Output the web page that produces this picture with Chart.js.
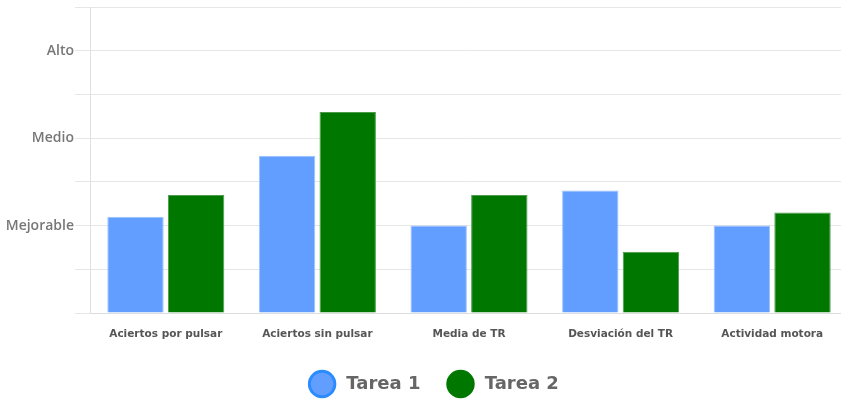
<!DOCTYPE html>
<html>
<head>
<meta charset="utf-8">
<script src="https://cdn.jsdelivr.net/npm/chart.js@4"></script>
<style>
  html, body { margin: 0; padding: 0; background: #fff; overflow: hidden; }
  #wrap { width: 848px; height: 400px; position: relative; }
</style>
</head>
<body>
<div id="wrap"><canvas id="grafico"></canvas></div>
<script>
// ===== DATOS =====
const categorias = ['Aciertos por pulsar', 'Aciertos sin pulsar', 'Media de TR', 'Desviación del TR', 'Actividad motora'];
const tarea1 = [2.2, 3.6, 2.0, 2.8, 2.0];
const tarea2 = [2.7, 4.6, 2.7, 1.4, 2.3];
const nivelesY = { 2: 'Mejorable', 4: 'Medio', 6: 'Alto' };

// desplaza un poco la leyenda (derecha y abajo), como en el original
const moverLeyenda = {
    id: 'moverLeyenda',
    afterLayout(chart) {
        const lg = chart.legend;
        lg.left += 12;
        lg.right += 12;
        lg.top += 3;
        lg.bottom += 3;
    }
};

const ctx = document.getElementById('grafico').getContext('2d');
new Chart(ctx, {
    type: 'bar',
    data: {
        labels: categorias,
        datasets: [{
            label: 'Tarea 1',
            data: tarea1,
            backgroundColor: '#619eff',
            borderColor: '#9cc2ff',
            borderWidth: 1,
            categoryPercentage: 0.8,
            barPercentage: 0.93
        }, {
            label: 'Tarea 2',
            data: tarea2,
            backgroundColor: '#007800',
            borderColor: '#4c9c4c',
            borderWidth: 1,
            categoryPercentage: 0.8,
            barPercentage: 0.93
        }]
    },
    plugins: [moverLeyenda],
    options: {
        responsive: true,
        maintainAspectRatio: false,
        animation: false,
        layout: { padding: 0 },
        plugins: {
            tooltip: { enabled: false },
            legend: {
                position: 'bottom',
                labels: {
                    usePointStyle: true,
                    pointStyle: 'circle',
                    padding: 31,
                    color: '#666',
                    font: { family: 'DejaVu Sans', size: 18, weight: 'bold' },
                    generateLabels: function(chart) {
                        const lista = Chart.defaults.plugins.legend.labels.generateLabels(chart);
                        lista.forEach(l => { l.text = ' ' + l.text; l.lineWidth = 3; });
                        lista[0].strokeStyle = '#2a8cff';
                        lista[1].strokeStyle = '#007800';
                        return lista;
                    }
                }
            }
        },
        scales: {
            x: {
                grid: { display: false, drawTicks: false },
                border: { display: true, color: '#ddd' },
                ticks: {
                    color: '#555',
                    padding: 15,
                    maxRotation: 0,
                    font: { family: 'DejaVu Sans', size: 10.5, weight: 'bold' }
                },
                afterFit: function(scale) { scale.height = 28; }
            },
            y: {
                min: 0,
                max: 7,
                grid: { color: '#e6e6e6', tickLength: 15 },
                border: { display: true, color: '#e0e0e0' },
                ticks: {
                    stepSize: 1,
                    padding: 1,
                    color: '#777',
                    font: { family: 'Open Sans', size: 14, weight: '600' },
                    callback: function(v) { return nivelesY[v] || ''; }
                },
                afterFit: function(scale) {
                    scale.width = 90;
                    scale.paddingTop = 7;
                    scale.paddingBottom = 0;
                }
            }
        }
    }
});
</script>
</body>
</html>
